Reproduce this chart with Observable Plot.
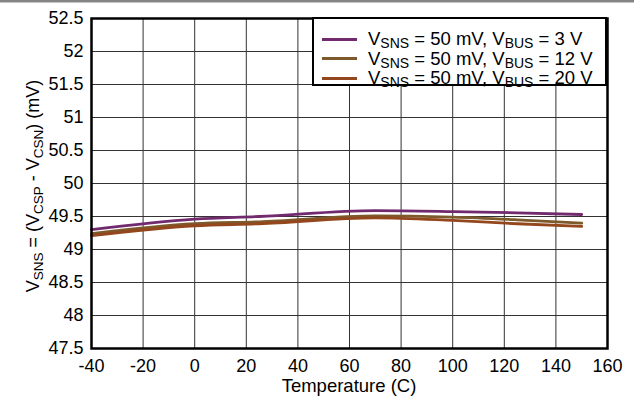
<!DOCTYPE html>
<html>
<head>
<meta charset="utf-8">
<script src="https://cdn.jsdelivr.net/npm/d3@7"></script>
<script src="https://cdn.jsdelivr.net/npm/@observablehq/plot@0.6"></script>
<style>
  body { margin: 0; background: #fff; font-family: "Liberation Sans", Arial, sans-serif; }
  #wrap { position: relative; width: 634px; height: 401px; overflow: hidden; background: #fff; }
  #topbar { position: absolute; left: 0; top: 0; width: 634px; height: 2px; background: #848484; border-bottom: 1px solid #c4c4c4; }
  #legend { position: absolute; left: 312px; top: 17px; width: 295px; height: 69px; box-sizing: border-box;
            border: 2.5px solid #000; background: #fff; padding: 10.5px 0 0 8px; }
  .row { display: flex; align-items: center; height: 19.5px; font-size: 18.5px; color: #000; white-space: nowrap; }
  .sw { display: inline-block; width: 35px; height: 3px; margin-right: 11px; }
  .row sub { font-size: 14px; vertical-align: -3px; line-height: 0; }
</style>
</head>
<body>
<div id="wrap"><div id="topbar"></div></div>
<script>
// ---- data ----
const temps = [-40, 0, 25, 70, 100, 125, 150];
const vbus3 = [49.30, 49.46, 49.50, 49.59, 49.575, 49.555, 49.53];
const vbus12 = [49.24, 49.39, 49.42, 49.51, 49.49, 49.45, 49.40];
const vbus20 = [49.21, 49.36, 49.39, 49.48, 49.44, 49.39, 49.35];
const seriesBus = ["3", "12", "20"];
const seriesColors = ["#712a6e", "#7c5a2c", "#94461c"];
const xTicks = [-40, -20, 0, 20, 40, 60, 80, 100, 120, 140, 160];
const yTicks = [47.5, 48, 48.5, 49, 49.5, 50, 50.5, 51, 51.5, 52, 52.5];
const xLabel = "Temperature (C)";

const seriesValues = [vbus3, vbus12, vbus20];
const rows = [];
seriesValues.forEach((vals, s) => temps.forEach((t, i) => rows.push({s: seriesBus[s], t, v: vals[i]})));

const marginLeft = 91, marginRight = 27, marginTop = 18, marginBottom = 53;
const W = 634, H = 401;

const chart = Plot.plot({
  width: W, height: H,
  marginLeft, marginRight, marginTop, marginBottom,
  style: { fontFamily: '"Liberation Sans", Arial, sans-serif', fontSize: "18px", color: "#000", background: "transparent", overflow: "visible" },
  x: { domain: [-40, 160] },
  y: { domain: [47.5, 52.5] },
  color: { domain: seriesBus, range: seriesColors },
  marks: [
    Plot.ruleX(xTicks, { stroke: "#333", strokeWidth: 1 }),
    Plot.ruleY(yTicks, { stroke: "#333", strokeWidth: 1 }),
    Plot.line(rows, { x: "t", y: "v", z: "s", stroke: "s", strokeWidth: 2.8, curve: "monotone-x" }),
    Plot.frame({ stroke: "#000", strokeWidth: 2.5 }),
    Plot.axisX(xTicks, { tickSize: 0, tickPadding: 11, fontSize: 18, label: null, tickFormat: d => String(d) }),
    Plot.axisY(yTicks, { tickSize: 0, tickPadding: 8, fontSize: 18, label: null, tickFormat: d => String(d) })
  ]
});

const wrap = document.getElementById("wrap");
wrap.insertBefore(chart, wrap.firstChild);

const svg = d3.select(chart);
// x axis label
svg.append("text")
  .attr("x", marginLeft + (W - marginLeft - marginRight) / 2)
  .attr("y", H - 9)
  .attr("text-anchor", "middle")
  .attr("font-size", 18.5)
  .attr("fill", "#000")
  .text(xLabel);

// y axis label with subscripts
const yl = svg.append("text")
  .attr("transform", `translate(38.5,${marginTop + (H - marginTop - marginBottom) / 2 + 3}) rotate(-90)`)
  .attr("text-anchor", "middle")
  .attr("font-size", 18)
  .attr("fill", "#000");
const parts = [["V", 0], ["SNS", 1], [" = (V", 0], ["CSP", 1], [" - V", 0], ["CSN", 1], [") (mV)", 0]];
let prevSub = 0;
parts.forEach(([txt, sub]) => {
  const dy = (sub - prevSub) * 4;
  yl.append("tspan").attr("dy", dy).attr("font-size", sub ? 13.5 : 18).text(txt);
  prevSub = sub;
});

// legend
const legend = document.createElement("div");
legend.id = "legend";
seriesBus.forEach((b, i) => {
  const r = document.createElement("div");
  r.className = "row";
  r.innerHTML = `<span class="sw" style="background:${seriesColors[i]}"></span><span>V<sub>SNS</sub> = 50 mV, V<sub>BUS</sub> = ${b} V</span>`;
  legend.appendChild(r);
});
wrap.appendChild(legend);
</script>
</body>
</html>
